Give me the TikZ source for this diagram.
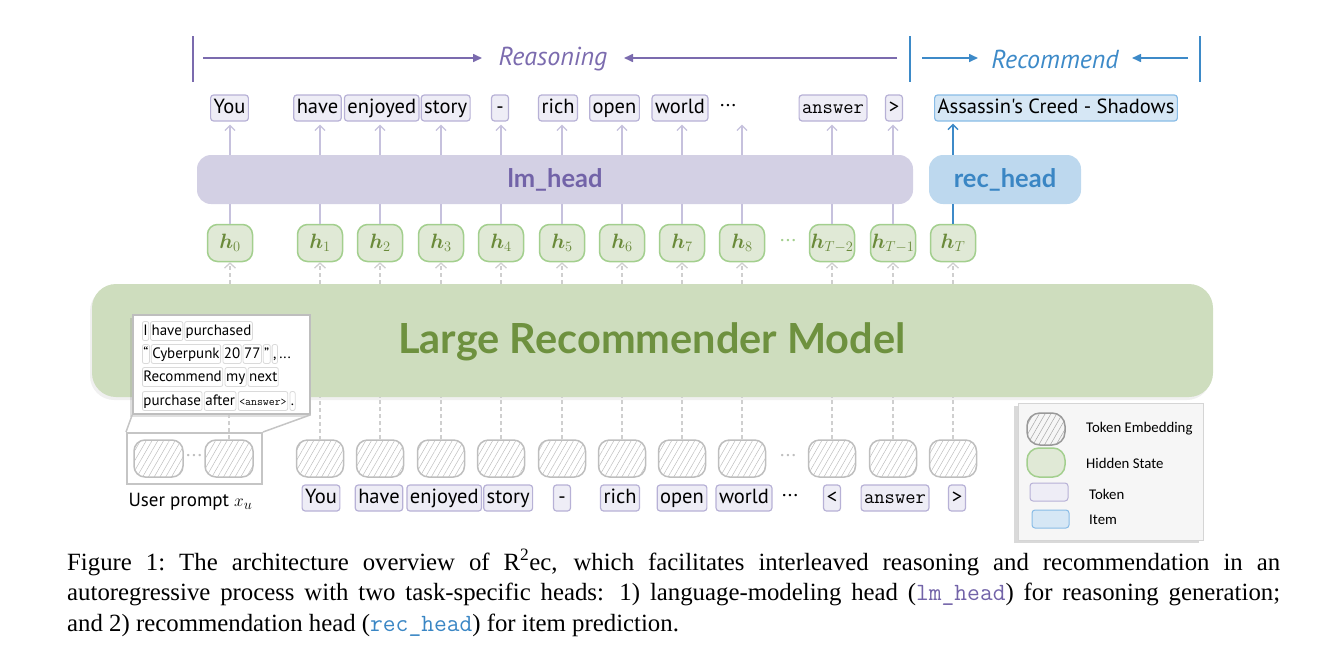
\documentclass[tikz,border=0pt]{standalone}
\usepackage{fontspec}
\usepackage{bm}
\setmainfont{Liberation Serif}
\newfontfamily\sansA{PT Sans}
\newfontfamily\legA{Carlito}
\newfontfamily\headA{Lato}
\usetikzlibrary{arrows.meta,patterns.meta,shadows,positioning,calc}
\definecolor{tokD}{HTML}{B7B1D6}
\definecolor{tokF}{HTML}{EEEDF6}
\definecolor{itmD}{HTML}{89BCE6}
\definecolor{itmF}{HTML}{D6E7F5}
\definecolor{hidD}{HTML}{A3CF8E}
\definecolor{hidF}{HTML}{E0E9D6}
\definecolor{hidT}{HTML}{6A8A3A}
\definecolor{embD}{HTML}{BEBEBE}
\definecolor{lmF}{HTML}{D3D0E4}
\definecolor{lmT}{HTML}{7263A8}
\definecolor{recF}{HTML}{BDD8EE}
\definecolor{recT}{HTML}{3A86C4}
\definecolor{modF}{HTML}{CEDDBE}
\definecolor{modT}{HTML}{6E913F}
\definecolor{purp}{HTML}{7B6BAE}
\definecolor{bluA}{HTML}{3D8AC8}
\definecolor{lavA}{HTML}{C6C1DD}
\definecolor{dashG}{HTML}{CFCFCF}
\definecolor{popD}{HTML}{DADADA}
\definecolor{legD}{HTML}{D5D5D5}
\definecolor{legF}{HTML}{F6F6F6}
\newcommand\fTok{\sansA\fontsize{20.5}{24}\selectfont}
\newcommand\fMono{\ttfamily\fontsize{20}{24}\selectfont}
\newcommand\fPop{\sansA\fontsize{15}{18}\selectfont}
\newcommand\fLeg{\legA\fontsize{14.8}{17}\selectfont}
\newcommand\fHead{\headA\bfseries\fontsize{25.5}{28}\selectfont}
\newcommand\fCap{\fontsize{24.8}{29}\selectfont}
\tikzset{
  x=1pt, y=-1pt,
  tok/.style={draw=tokD, fill=tokF, rounded corners=3pt, line width=1.2pt, inner xsep=3pt, inner ysep=0pt,
    minimum height=26pt, minimum width=17pt, text height=14.5pt, text depth=4.5pt, font=\fTok},
  itm/.style={tok, draw=itmD, fill=itmF},
  hid/.style={draw=hidD, fill=hidF, line width=1.5pt, rounded corners=10pt, minimum width=45pt,
    minimum height=37pt, inner sep=0pt, text=hidT, font=\fontsize{21}{24}\selectfont},
  emb/.style={draw=embD, line width=1.5pt, rounded corners=11pt, minimum width=47pt, minimum height=37pt,
    inner sep=0pt, pattern={Lines[angle=60,distance=5pt,line width=0.5pt]}, pattern color=embD},
  ptok/.style={draw=popD, fill=white, rounded corners=2pt, line width=0.8pt, inner xsep=1pt, inner ysep=0pt,
    minimum height=19pt, text height=12pt, text depth=4pt, font=\fPop, anchor=west},
  lavline/.style={lavA, line width=1.3pt},
  uparr/.style={lavA, line width=1.3pt, -{Straight Barb[length=5pt,width=10pt,line width=1.3pt]}, shorten >=3pt},
  dashup/.style={dashG, line width=1.3pt, dash pattern=on 4pt off 3pt, -{Straight Barb[length=5pt,width=11pt,line width=1.3pt]}},
  dashln/.style={dashG, line width=1.3pt, dash pattern=on 4pt off 3pt},
  toparr/.style={line width=1.6pt, -{Triangle[length=9pt,width=8pt]}},
}
\begin{document}
\begin{tikzpicture}
\useasboundingbox (0,0) rectangle (1342,654);

% ---------- top labels ----------
\node[text=purp, font=\sansA\itshape\fontsize{26}{29}\selectfont] (reas) at (553,59) {Reasoning};
\node[text=bluA, font=\sansA\itshape\fontsize{26}{29}\selectfont] (recm) at (1055,59) {Recommend};
\draw[purp, line width=2pt] (193,36) -- (193,82);
\draw[bluA, line width=2pt] (910,36) -- (910,82);
\draw[bluA, line width=2pt] (1200,36) -- (1200,82);
\coordinate (ra1) at (203,58); \coordinate (ra2) at (482,58);
\coordinate (rb1) at (897,58); \coordinate (rb2) at (624,58);
\coordinate (ca1) at (922,58); \coordinate (ca2) at (978,58);
\coordinate (cb1) at (1188,58); \coordinate (cb2) at (1132,58);
\draw[toparr, purp] (ra1) -- (ra2);
\draw[toparr, purp] (rb1) -- (rb2);
\draw[toparr, bluA] (ca1) -- (ca2);
\draw[toparr, bluA] (cb1) -- (cb2);

% ---------- top tokens ----------
\node[tok] (t0) at (229.5,108) {You};
\node[tok] (t1) at (317.5,108) {have};
\node[tok, anchor=west] (t2) at ([xshift=2pt]t1.east) {enjoyed};
\node[tok, anchor=west] (t3) at ([xshift=1pt]t2.east) {story};
\node[tok] (t4) at (500,108) {-};
\node[tok] (t5) at (558,108) {rich};
\node[tok] (t6) at (614.5,108) {open};
\node[tok] (t7) at (680,108) {world};
\node[font=\fTok] (t8) at (728,106) {...};
\node[tok, font=\fMono] (t9) at (833,108) {answer};
\node[tok] (t10) at (894,108) {>};
\node[itm] (t11) at (1056,108) {Assassin's Creed - Shadows};

% ---------- heads ----------
\node[fill=lmF, rounded corners=14pt, minimum width=716pt, minimum height=49pt, inner sep=0pt] (lm) at (555,179.5) {};
\node[text=lmT, font=\fHead] (lmtxt) at (555,180) {lm\_head};
\node[fill=recF, rounded corners=14pt, minimum width=152pt, minimum height=49pt, inner sep=0pt] (rec) at (1005,179.5) {};
\node[text=recT, font=\fHead] (rectxt) at (1005,180) {rec\_head};

% ---------- model ----------
\node[fill=modF, rounded corners=24pt, minimum width=1121pt, minimum height=113pt, inner sep=0pt,
  drop shadow={shadow xshift=-2pt, shadow yshift=-3pt, opacity=0.12}] (model) at (652.5,340.5) {};
\node[text=modT, font=\headA\bfseries\fontsize{41.5}{45}\selectfont] (modtxt) at (652,342) {Large Recommender Model};

% ---------- hidden states ----------
\foreach \n/\x/\l in {h0/230/0, h1/320/1, h2/380/2, h3/441/3, h4/501/4, h5/562/5, h6/622/6, h7/682/7, h8/742/8,
  hA/832/{T-2}, hB/893/{T-1}, hC/953/T}
  \node[hid] (\n) at (\x,243) {$\bm{h}_{\l}$};
\node[text=hidD, font=\fTok] (hdots) at (788,241) {...};

% lines hidden -> heads
\foreach \n in {h0,h1,h2,h3,h4,h5,h6,h7,h8,hA,hB}
  \draw[lavline] (\n.north) -- (\n.north |- lm.south);
\draw[bluA, line width=1.5pt] (hC.north) -- (hC.north |- rec.south);
% arrows heads -> tokens
\foreach \n/\t in {h0/t0,h1/t1,h2/t2,h3/t3,h4/t4,h5/t5,h6/t6,h7/t7,h8/t0,hA/t9,hB/t10}
  \draw[uparr] (\n.north |- lm.north) -- (\n.north |- \t.south);
\draw[bluA, line width=1.5pt, -{Straight Barb[length=5pt,width=10pt,line width=1.5pt]}, shorten >=2pt]
  (hC.north |- rec.north) -- (hC.north |- t11.south);
% model -> hidden
\foreach \n in {h0,h1,h2,h3,h4,h5,h6,h7,h8,hA,hB,hC}
  \draw[dashup] (\n.south |- model.north) -- (\n.south);

% ---------- embeddings ----------
\foreach \n/\x in {e1/320, e2/380, e3/441, e4/501, e5/562, e6/622, e7/682, e8/742, eA/832, eB/893, eC/953}
  \node[emb] (\n) at (\x,458.5) {};
\node[text=embD, font=\fTok] (edots) at (788,456) {...};
\foreach \n in {e1,e2,e3,e4,e5,e6,e7,e8,eA,eB,eC}
  \draw[dashln] (\n.north) -- (\n.north |- model.south);

% ---------- bottom tokens ----------
\node[tok] (b1) at (321,498) {You};
\node[tok] (b2) at (379,498) {have};
\node[tok, anchor=west] (b3) at ([xshift=3pt]b2.east) {enjoyed};
\node[tok, anchor=west] (b4) at ([xshift=1pt]b3.east) {story};
\node[tok] (b5) at (562,498) {-};
\node[tok] (b6) at (620,498) {rich};
\node[tok] (b7) at (682,498) {open};
\node[tok] (b8) at (744,498) {world};
\node[font=\fTok] (bdots) at (790,496) {...};
\node[tok] (b10) at (832,498) {<};
\node[tok, font=\fMono] (b11) at (895,498) {answer};
\node[tok] (b12) at (957,498) {>};

% ---------- prompt group ----------
\node[draw=embD!90, line width=2pt, minimum width=135pt, minimum height=51pt, inner sep=0pt] (grp) at (194.5,458.5) {};
\node[emb, minimum width=49pt] (p1) at (158.5,458.5) {};
\node[emb, minimum width=48pt] (p2) at (229,458.5) {};
\node[text=embD, font=\fTok] (pdots) at (194,456) {...};
\node[font=\sansA\fontsize{19}{22}\selectfont, anchor=west] (uprompt) at (125,502) {User prompt $x_u$};

% popup
\node[draw=embD, fill=white, line width=1.5pt, minimum width=177pt, minimum height=99pt, inner sep=0pt,
  drop shadow={shadow xshift=-3pt, shadow yshift=-3pt, opacity=0.25}] (popup) at (221.5,364.5) {};
\draw[embD!90, line width=1.5pt] (popup.south west) -- (grp.north west);
\draw[embD!90, line width=1.5pt] (popup.south east) -- (grp.north east);
\draw[dashln] (p2.north) -- (p2.north |- popup.south);

\node[ptok] (q1) at (142,331) {I};
\node[ptok, right=1pt of q1] (q2) {have};
\node[ptok, right=1pt of q2] (q3) {purchased};
\node[ptok] (q4) at (142,354) {“};
\node[ptok, right=1pt of q4] (q5) {Cyberpunk};
\node[ptok, right=1.5pt of q5] (q6) {20};
\node[ptok, right=1pt of q6] (q7) {77};
\node[ptok, right=1pt of q7] (q8) {”};
\node[ptok, right=1pt of q8] (q9) {,};
\node[ptok, right=0pt of q9, draw=none, fill=none] (q10) {...};
\node[ptok] (q11) at (142,377) {Recommend};
\node[ptok, right=1.5pt of q11] (q12) {my};
\node[ptok, right=1pt of q12] (q13) {next};
\node[ptok] (q14) at (142,401) {purchase};
\node[ptok, right=1.5pt of q14] (q15) {after};
\node[ptok, right=1.5pt of q15, font=\ttfamily\fontsize{11.5}{13}\selectfont] (q16) {<answer>};
\node[ptok, right=1.5pt of q16] (q17) {.};

% ---------- legend ----------
\node[draw=legD, fill=legF, line width=0.8pt, minimum width=185pt, minimum height=137pt, inner sep=0pt,
  drop shadow={shadow xshift=-4pt, shadow yshift=-3pt, opacity=0.3}] (leg) at (1110.5,471.5) {};
\node[emb, draw=gray!80, minimum width=38pt, minimum height=32pt, rounded corners=13pt, pattern color=gray!70] (lemb) at (1046,429) {};
\node[hid, minimum width=38pt, minimum height=29pt, rounded corners=12pt] (lhid) at (1046,462.5) {};
\node[tok, minimum width=38pt, minimum height=18pt, text height=0pt, text depth=0pt, line width=1pt] (ltok) at (1049,492) {};
\node[itm, minimum width=37pt, minimum height=18pt, text height=0pt, text depth=0pt, line width=1pt] (litm) at (1050.5,519) {};
\node[font=\fLeg, anchor=west, inner sep=0pt] (lt1) at (1086,429) {Token Embedding};
\node[font=\fLeg, anchor=west, inner sep=0pt] (lt2) at (1086,463) {Hidden State};
\node[font=\fLeg, anchor=west, inner sep=0pt] (lt3) at (1089,494) {Token};
\node[font=\fLeg, anchor=west, inner sep=0pt] (lt4) at (1089,520) {Item};

% ---------- caption ----------
\node[anchor=base west, inner sep=0pt, font=\fCap] (cap1) at (67,570)
  {\makebox[1213pt][s]{Figure 1:\ The architecture overview of R\textsuperscript{2}ec, which facilitates interleaved reasoning and recommendation in an}};
\node[anchor=base west, inner sep=0pt, font=\fCap] (cap2) at (67,600.5)
  {\makebox[1213pt][s]{autoregressive process with two task-specific heads: 1) language-modeling head ({\color{lmT}\texttt{lm\_head}}) for reasoning generation;}};
\node[anchor=base west, inner sep=0pt, font=\fCap] (cap3) at (67,631)
  {and 2) recommendation head ({\color{recT}\texttt{rec\_head}}) for item prediction.};
\end{tikzpicture}
\end{document}
